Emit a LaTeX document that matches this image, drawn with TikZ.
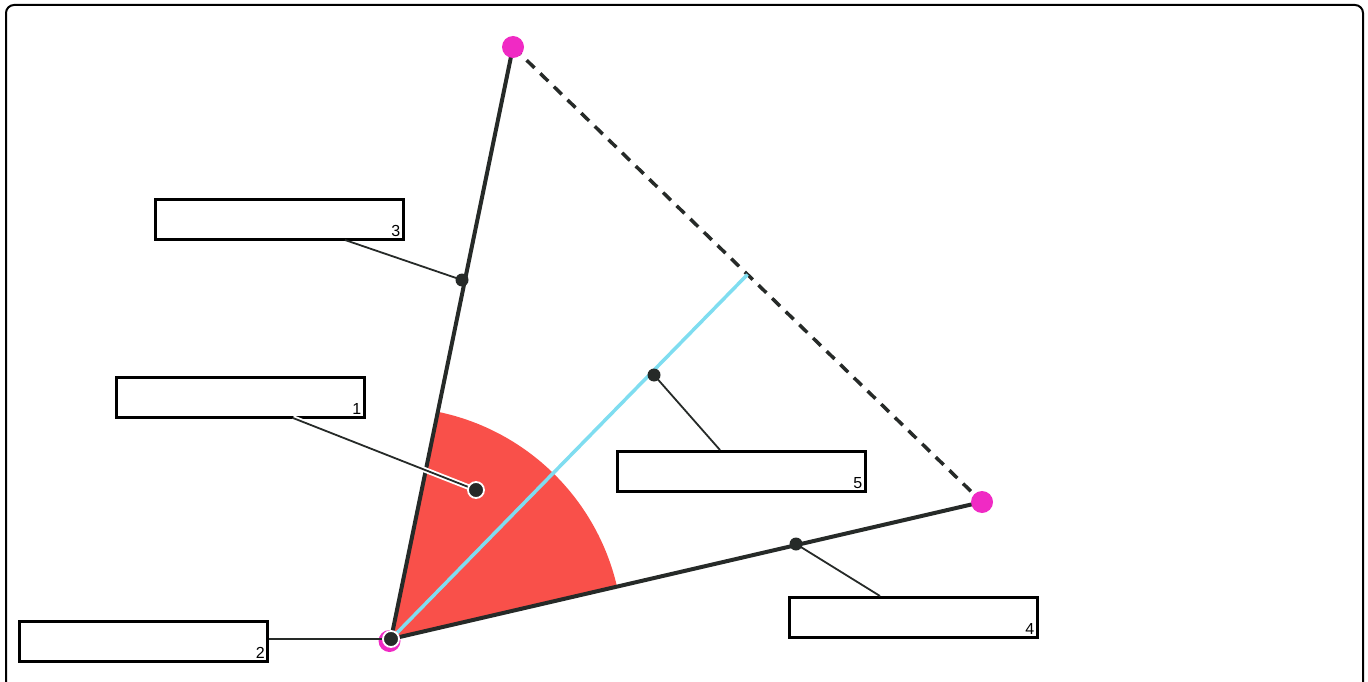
\documentclass[tikz,border=0pt]{standalone}
\usepackage{fontspec}
\setmainfont{Liberation Sans}
\definecolor{dk}{HTML}{262A28}
\definecolor{sred}{HTML}{F9504A}
\definecolor{mag}{HTML}{F02AC4}
\definecolor{cy}{HTML}{7FDDF0}
\tikzset{
  lbox/.style={draw=black, line width=3pt, minimum width=248pt, minimum height=40pt, inner sep=0pt, fill=white},
  num/.style={anchor=south east, font=\fontsize{16pt}{16pt}\selectfont, inner sep=4pt},
  side/.style={draw=dk, line width=4pt},
  leader/.style={draw=dk, line width=1.8pt},
  pt/.style={circle, fill=dk, minimum size=13pt, inner sep=0pt},
  mpt/.style={circle, fill=mag, minimum size=22pt, inner sep=0pt},
}
\begin{document}
\begin{tikzpicture}[x=1pt,y=-1pt]
\useasboundingbox (0,0) rectangle (1368,682);
\begin{scope}
\clip (0,0) rectangle (1368,682);
\draw[black, line width=2pt, rounded corners=8pt] (6,5) rectangle (1363,700);
\end{scope}
% geometry
\coordinate (V) at (391,639);
\coordinate (A) at (513,47);
\coordinate (B) at (982,502);
\coordinate (M) at (747.5,274.5);
% sector
\fill[sred] (V) -- ++(-13.05:232) arc[start angle=-13.05, end angle=-78.36, radius=232] -- cycle;
% sides
\draw[dk, line width=3.5pt, dash pattern=on 11pt off 8pt] (A) -- (B);
\draw[side] (A) -- (V) -- (B);
\draw[cy, line width=3.5pt] (V) -- (M);
% magenta points
\node[mpt] (mV) at (389.5,641) {};
\node[mpt] (mA) at (A) {};
\node[mpt] (mB) at (B) {};
% label boxes
\node[lbox] (b1) at (240,397.5) {};
\node[num] at (b1.south east) {1};
\node[lbox] (b2) at (143.5,641) {};
\node[num] at (b2.south east) {2};
\node[lbox] (b3) at (279,219) {};
\node[num] at (b3.south east) {3};
\node[lbox] (b4) at (913,617) {};
\node[num] at (b4.south east) {4};
\node[lbox] (b5) at (741,471) {};
\node[num] at (b5.south east) {5};
% points on features
\coordinate (p1) at (476,490);
\coordinate (p3) at (462,280);
\coordinate (p4) at (796,544);
\coordinate (p5) at (654,375);
\coordinate (q1) at (293,418);
\coordinate (q3) at (345,240);
\coordinate (q4) at (880,596);
\coordinate (q5) at (720,450);
% leaders
\draw[white, line width=5.5pt] (q1) -- (p1);
\draw[leader] (q1) -- (p1);
\draw[leader] (b2.east |- V) -- (V);
\draw[leader] (q3) -- (p3);
\draw[leader] (q4) -- (p4);
\draw[leader] (q5) -- (p5);
% dots
\node[pt, draw=white, line width=1.8pt, minimum size=16pt] (d1) at (p1) {};
\node[pt, draw=white, line width=1.8pt, minimum size=16pt] (d2) at (V) {};
\node[pt] (d3) at (p3) {};
\node[pt] (d4) at (p4) {};
\node[pt] (d5) at (p5) {};
\end{tikzpicture}
\end{document}
